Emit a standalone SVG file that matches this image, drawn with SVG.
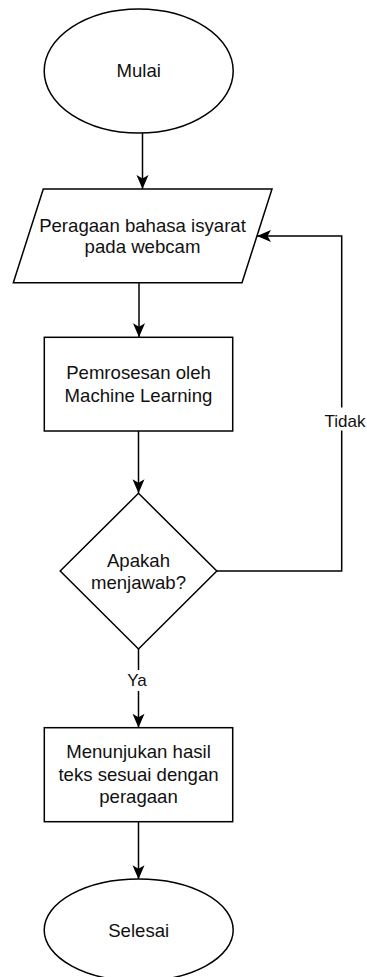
<svg xmlns="http://www.w3.org/2000/svg" width="367" height="977" viewBox="0 0 367 977">
  <style>
    .shape { fill: #ffffff; stroke: #000000; stroke-width: 1.5; }
    .edge { fill: none; stroke: #000000; stroke-width: 1.5; }
    .label { font-family: "Liberation Sans", Arial, Helvetica, sans-serif; font-size: 18.6px; fill: #111111; text-anchor: middle; }
    .elabel { font-family: "Liberation Sans", Arial, Helvetica, sans-serif; font-size: 17px; fill: #111111; text-anchor: middle; }
    .lbg { fill: #ffffff; stroke: none; }
  </style>
  <defs>
    <marker id="arrow" viewBox="-15 -7 16 14" refX="0" refY="0" markerWidth="16" markerHeight="14" markerUnits="userSpaceOnUse" orient="auto">
      <path d="M0,0 L-14,-6 L-10.5,0 L-14,6 Z" fill="#000000"/>
    </marker>
  </defs>
  <rect width="367" height="977" fill="#ffffff"/>

  <!-- connectors -->
  <g id="connectors">
    <path class="edge" d="M142.5,133 V189" marker-end="url(#arrow)"/>
    <path class="edge" d="M139,282.7 V337.3" marker-end="url(#arrow)"/>
    <path class="edge" d="M138.5,431 V493.3" marker-end="url(#arrow)"/>
    <path class="edge" d="M216.8,571 H341.7 V236 H257" marker-end="url(#arrow)"/>
    <path class="edge" d="M138.5,649 V727.7" marker-end="url(#arrow)"/>
    <path class="edge" d="M138.5,821.7 V879.3" marker-end="url(#arrow)"/>
    <g id="label-tidak">
      <rect class="lbg" x="323.5" y="407.5" width="43" height="23"/>
      <text class="elabel" x="345" y="426.5">Tidak</text>
    </g>
    <g id="label-ya">
      <rect class="lbg" x="126" y="670" width="22" height="21"/>
      <text class="elabel" x="137" y="686">Ya</text>
    </g>
  </g>

  <g id="mulai">
    <ellipse class="shape" cx="138.7" cy="71" rx="94.5" ry="62"/>
    <text class="label" x="138.7" y="77">Mulai</text>
  </g>

  <g id="peragaan">
    <polygon class="shape" points="43.3,189 272,189 242,282.7 13.3,282.7"/>
    <text class="label" x="142.5" y="231.5">Peragaan bahasa isyarat</text>
    <text class="label" x="142.5" y="253">pada webcam</text>
  </g>

  <g id="pemrosesan">
    <rect class="shape" x="44.3" y="337.3" width="188.4" height="93.7"/>
    <text class="label" x="138.5" y="378.5">Pemrosesan oleh</text>
    <text class="label" x="138.5" y="401.5">Machine Learning</text>
  </g>

  <g id="keputusan">
    <polygon class="shape" points="138.5,493.3 216.8,571 138.5,649 60.2,571"/>
    <text class="label" x="138.5" y="566.7">Apakah</text>
    <text class="label" x="138.5" y="589.3">menjawab?</text>
  </g>

  <g id="hasil">
    <rect class="shape" x="44.3" y="727.7" width="188.4" height="94"/>
    <text class="label" x="138.5" y="758.3">Menunjukan hasil</text>
    <text class="label" x="138.5" y="780.7">teks sesuai dengan</text>
    <text class="label" x="138.5" y="803.3">peragaan</text>
  </g>

  <g id="selesai">
    <ellipse class="shape" cx="138.7" cy="930" rx="94.5" ry="51"/>
    <text class="label" x="138.7" y="936.5">Selesai</text>
  </g>
</svg>
